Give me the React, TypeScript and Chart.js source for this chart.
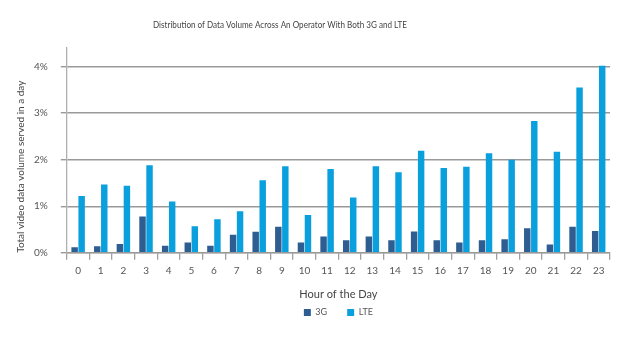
import React, { useEffect, useRef } from "react";
import { Chart, registerables } from "chart.js";

Chart.register(...registerables);

const titleText = "Distribution of Data Volume Across An Operator With Both 3G and LTE";
const yTitle = "Total video data volume served in a day";
const xTitle = "Hour of the Day";
const hours = ["0","1","2","3","4","5","6","7","8","9","10","11","12","13","14","15","16","17","18","19","20","21","22","23"];
const g3 = [0.12,0.14,0.19,0.78,0.15,0.22,0.15,0.39,0.45,0.56,0.22,0.35,0.27,0.35,0.27,0.46,0.27,0.22,0.27,0.29,0.53,0.18,0.56,0.47];
const lte = [1.22,1.47,1.44,1.88,1.10,0.57,0.72,0.89,1.56,1.86,0.81,1.80,1.19,1.86,1.73,2.19,1.82,1.85,2.14,2.00,2.83,2.17,3.55,4.02];
const yTicks = [0, 1, 2, 3, 4];

const FONT = "Lato, 'Open Sans', sans-serif";

const titlePlugin = {
  id: "customTitle",
  afterDraw(chart: any) {
    const ctx = chart.ctx;
    ctx.save();
    ctx.font = `10px ${FONT}`;
    ctx.fillStyle = "#444";
    ctx.textAlign = "center";
    ctx.textBaseline = "middle";
    ctx.translate(280, 25);
    ctx.scale(0.81, 1);
    ctx.fillText(titleText, 0, 0);
    ctx.restore();
  },
};

export default function App() {
  const ref = useRef<HTMLCanvasElement | null>(null);
  useEffect(() => {
    document.body.style.margin = "0";
    const chart = new Chart(ref.current as HTMLCanvasElement, {
      type: "bar",
      data: {
        labels: hours,
        datasets: [
          { label: "3G", data: g3, backgroundColor: "#2e5d91", borderWidth: 0, barPercentage: 0.92, categoryPercentage: 0.62 },
          { label: "LTE", data: lte, backgroundColor: "#0aa0de", borderWidth: 0, barPercentage: 0.92, categoryPercentage: 0.62 },
        ],
      },
      options: {
        animation: false,
        responsive: false,
        layout: { padding: { top: 48, right: 30, bottom: 18, left: 15 } },
        plugins: {
          title: { display: false },
          tooltip: { enabled: false },
          legend: {
            position: "bottom",
            fullSize: false,
            labels: { boxWidth: 7, boxHeight: 7, padding: 20, color: "#555", font: { family: FONT, size: 9 } },
          },
        },
        scales: {
          x: {
            grid: { offset: true, drawOnChartArea: false, drawTicks: true, tickLength: 7, color: "#a0a0a0", lineWidth: 1.3 },
            border: { color: "#999", width: 1.3 },
            ticks: { color: "#555", padding: 5, font: { family: FONT, size: 10 }, maxRotation: 0, autoSkip: false },
            title: { display: true, text: xTitle, color: "#444", padding: { top: 6, bottom: -13 }, font: { family: FONT, size: 11 } },
          },
          y: {
            min: 0,
            max: 4.4,
            afterBuildTicks: (axis: any) => {
              axis.ticks = yTicks.map((v) => ({ value: v }));
            },
            grid: { color: "#999", lineWidth: 1.4, tickLength: 6 },
            border: { color: "#b0b0b0", width: 1.3 },
            ticks: { color: "#555", padding: 13, font: { family: FONT, size: 10 }, callback: (v: any) => v + "%" },
            title: { display: true, text: yTitle, align: "start", color: "#444", padding: { top: 0, bottom: -6 }, font: { family: FONT, size: 10 } },
          },
        },
      },
      plugins: [titlePlugin],
    } as any);
    return () => chart.destroy();
  }, []);
  return <canvas ref={ref} width={640} height={345} style={{ display: "block" }} />;
}
